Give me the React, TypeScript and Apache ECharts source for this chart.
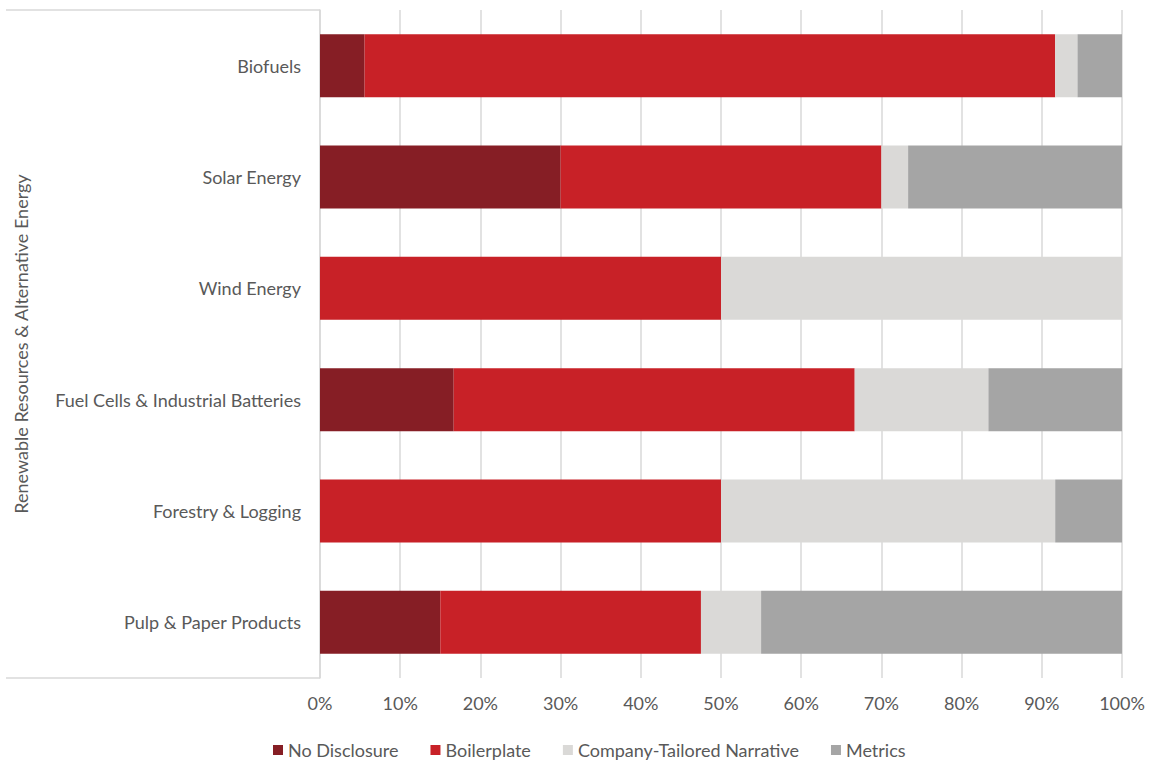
import React, { useEffect, useRef } from "react";
import * as echarts from "echarts";

const categories = [
  "Biofuels",
  "Solar Energy",
  "Wind Energy",
  "Fuel Cells & Industrial Batteries",
  "Forestry & Logging",
  "Pulp & Paper Products",
];
const noDisclosure = [5.56, 30, 0, 16.67, 0, 15];
const boilerplate = [86.11, 40, 50, 50, 50, 32.5];
const tailored = [2.78, 3.33, 50, 16.67, 41.67, 7.5];
const metrics = [5.56, 26.67, 0, 16.67, 8.33, 45];
const seriesNames = ["No Disclosure", "Boilerplate", "Company-Tailored Narrative", "Metrics"];
const groupName = "Renewable Resources & Alternative Energy";

const FONT = "Lato";
const TEXT = "#595959";
const FS = 18;

export default function App() {
  const ref = useRef<HTMLDivElement>(null);
  useEffect(() => {
    const chart = echarts.init(ref.current!, null, { renderer: "svg" });
    const colors = ["#861E25", "#C82127", "#DAD9D7", "#A5A5A5"];
    const data = [noDisclosure, boilerplate, tailored, metrics];
    chart.setOption({
      animation: false,
      textStyle: { fontFamily: FONT },
      grid: {
        left: 320,
        right: 27,
        top: 10,
        bottom: 86,
        containLabel: false,
        outerBoundsMode: "none",
      },
      legend: {
        bottom: 0,
        left: 268,
        itemWidth: 10,
        itemHeight: 10,
        itemGap: 32,
        icon: "rect",
        textStyle: { fontSize: FS, color: TEXT, fontFamily: FONT },
        data: seriesNames,
      },
      xAxis: {
        type: "value",
        min: 0,
        max: 100,
        interval: 10,
        axisLine: { show: false },
        axisTick: { show: false },
        splitLine: { lineStyle: { color: "#D9D9D9", width: 1.5 } },
        axisLabel: {
          formatter: (v: number) => `${v}%`,
          fontSize: FS,
          color: TEXT,
          margin: 16,
          fontFamily: FONT,
        },
      },
      yAxis: {
        type: "category",
        inverse: true,
        data: categories,
        name: groupName,
        nameLocation: "middle",
        nameRotate: 90,
        nameGap: 290,
        nameTextStyle: { fontSize: FS, color: TEXT, fontFamily: FONT },
        axisLine: { show: true, lineStyle: { color: "#D9D9D9", width: 1.5 } },
        axisTick: { show: false },
        axisLabel: { fontSize: FS, color: TEXT, margin: 19, fontFamily: FONT },
      },
      graphic: [
        {
          type: "line",
          shape: { x1: 6, y1: 10, x2: 320, y2: 10 },
          style: { stroke: "#D9D9D9", lineWidth: 1.5 },
        },
        {
          type: "line",
          shape: { x1: 6, y1: 678, x2: 320, y2: 678 },
          style: { stroke: "#D9D9D9", lineWidth: 1.5 },
        },
      ],
      series: seriesNames.map((name, i) => ({
        name,
        type: "bar",
        stack: "total",
        barWidth: 63,
        itemStyle: { color: colors[i] },
        data: data[i],
      })),
    });
    return () => chart.dispose();
  }, []);
  return (
    <div
      ref={ref}
      style={{ position: "absolute", left: 0, top: 0, width: 1149, height: 764, background: "#fff" }}
    />
  );
}
